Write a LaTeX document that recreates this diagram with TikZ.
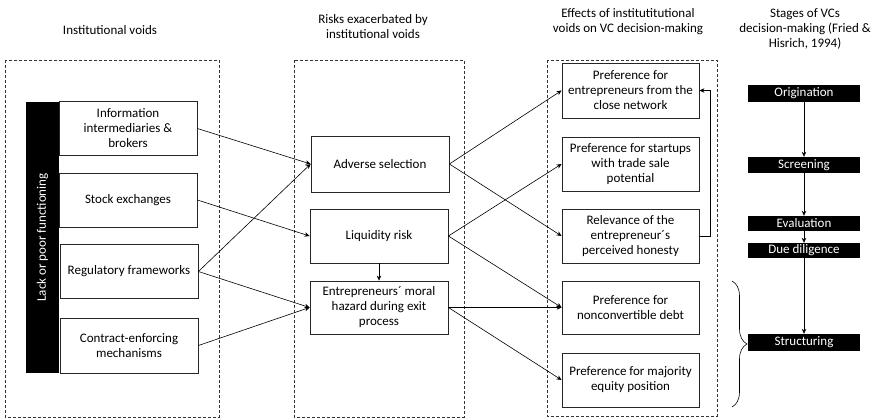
\documentclass[tikz,border=0pt]{standalone}
\usepackage{fontspec}
\setmainfont{Carlito}
\usetikzlibrary{arrows.meta,decorations.pathreplacing}

\begin{document}
\begin{tikzpicture}[x=1pt, y=-1pt, >={Stealth[length=5pt,width=4.5pt]},
  every node/.style={font=\fontsize{13}{15}\selectfont},
  voidbox/.style={draw=black!85, line width=0.8pt, minimum width=138pt, minimum height=54pt, align=center, inner sep=1pt},
  stagebox/.style={fill=black, text=white, minimum width=112pt, minimum height=16pt, inner sep=0pt},
  groupframe/.style={draw=black!80, dash pattern=on 3pt off 2pt, line width=0.7pt},
  link/.style={->, line width=0.6pt}]
  \useasboundingbox (0,0) rectangle (877,419);

  % Column titles
  \node (titleVoids) at (110,30) {Institutional voids};
  \node[align=center] (titleRisks) at (373,27) {Risks exacerbated by\\institutional voids};
  \node[align=center] (titleEffects) at (628,22) {Effects of institutitutional\\voids on VC decision-making};
  \node[align=center] (titleStages) at (805,29) {Stages of VCs\\decision-making (Fried \&\\Hisrich, 1994)};

  % Dashed frames
  \draw[groupframe] (5,60) rectangle (219,417);
  \draw[groupframe] (294,60) rectangle (464,417);
  \draw[groupframe] (547,60) rectangle (717,416);

  % Institutional voids
  \node[fill=black, text=white, rotate=90, minimum width=271pt, minimum height=33pt, inner sep=0pt] (lack) at (42.5,237.5) {Lack or poor functioning};
  \node[voidbox] (info) at (128,128.5) {Information\\intermediaries \&\\brokers};
  \node[voidbox] (stock) at (128,200) {Stock exchanges};
  \node[voidbox] (regul) at (129,271.5) {Regulatory frameworks};
  \node[voidbox, minimum height=55pt] (contract) at (129,345.5) {Contract-enforcing\\mechanisms};

  % Risks
  \node[voidbox, minimum height=56pt] (adverse) at (380,164) {Adverse selection};
  \node[voidbox] (liquid) at (379,236) {Liquidity risk};
  \node[voidbox, minimum height=53pt] (moral) at (379,307.5) {Entrepreneurs´ moral\\hazard during exit\\process};

  % Effects
  \node[voidbox, minimum width=137pt, minimum height=55pt] (network) at (630.5,90.5) {Preference for\\entrepreneurs from the\\close network};
  \node[voidbox, minimum width=137pt] (tradesale) at (630.5,164) {Preference for startups\\with trade sale\\potential};
  \node[voidbox, minimum width=137pt] (honesty) at (630.5,236) {Relevance of the\\entrepreneur´s\\perceived honesty};
  \node[voidbox, minimum width=137pt, minimum height=53pt] (debt) at (630.5,307.5) {Preference for\\nonconvertible debt};
  \node[voidbox, minimum width=137pt] (equity) at (630.5,380) {Preference for majority\\equity position};

  % Stages
  \node[stagebox, minimum height=17pt] (orig) at (804,93.5) {Origination};
  \node[stagebox] (screen) at (804,165) {Screening};
  \node[stagebox, minimum height=15pt] (eval) at (804,223.5) {Evaluation};
  \node[stagebox, minimum height=15pt] (due) at (804,250.5) {Due diligence};
  \node[stagebox, minimum height=17pt] (struct) at (804,342.5) {Structuring};

  % Links between columns
  \draw[link] (info.east) -- (adverse.west);
  \draw[link] (stock.east) -- (liquid.west);
  \draw[link] (regul.east) -- (adverse.west);
  \draw[link] (regul.east) -- (moral.west);
  \draw[link] (contract.east) -- (moral.west);
  \draw[link] (liquid.south) -- (moral.north);
  \draw[link] (adverse.east) -- (network.west);
  \draw[link] (adverse.east) -- (honesty.west);
  \draw[link] (liquid.east) -- (tradesale.west);
  \draw[link] (liquid.east) -- (debt.west);
  \draw[link] (moral.east) -- (debt.west);
  \draw[link] (moral.east) -- (equity.west);
  \draw[link] (honesty.east) -- ++(11,0) |- (network.east);

  % Stage sequence
  \draw[link] (orig) -- (screen);
  \draw[link] (screen) -- (eval);
  \draw[link] (eval) -- (due);
  \draw[link] (due) -- (struct);

  % Brace
  \coordinate (braceTop) at (732,281);
  \coordinate (braceBot) at (732,407);
  \draw[line width=0.6pt, decorate, decoration={brace, amplitude=15pt}] (braceTop) -- (braceBot);
\end{tikzpicture}
\end{document}
